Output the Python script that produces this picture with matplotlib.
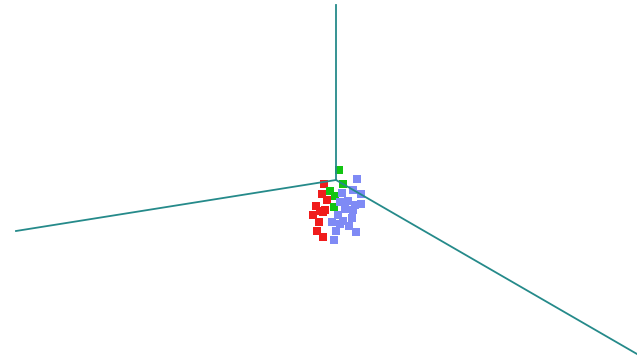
import numpy as np
import matplotlib
matplotlib.use('Agg')
import matplotlib.pyplot as plt

# projected point positions (screen coords of the 3d view)
red_x = [324, 322, 327, 316, 323, 313, 319, 317, 323, 320, 325]
red_y = [184, 194, 200, 206, 212, 215, 222, 231, 237, 211, 210]

green_x = [339, 343, 330, 335, 334]
green_y = [170, 184, 191, 196, 207]

blue_x = [357, 342, 353, 361, 340, 348, 355, 361, 345, 353, 338, 352, 343, 332, 349, 340, 336, 356, 334]
blue_y = [179, 193, 190, 194, 202, 201, 205, 204, 209, 210, 215, 218, 221, 222, 226, 224, 231, 232, 240]

# axis lines from the origin
origin = (336, 180)
axis_ends = [(336, 5), (16, 231), (637, 354)]

fig = plt.figure(figsize=(6.37, 3.59), dpi=100)
ax = fig.add_axes([0, 0, 1, 1])
ax.set_xlim(0, 637)
ax.set_ylim(359, 0)
ax.axis('off')

for ex, ey in axis_ends:
    ax.plot([origin[0], ex], [origin[1], ey], color='#258a8a', lw=1.3, zorder=3)

ax.scatter(red_x, red_y, s=26, marker='s', color='#f01c1c', linewidths=0, zorder=2)
ax.scatter(green_x, green_y, s=26, marker='s', color='#12c412', linewidths=0, zorder=2)
ax.scatter(blue_x, blue_y, s=26, marker='s', color='#7f8af5', linewidths=0, zorder=2)

fig.savefig('out.png', dpi=100)
